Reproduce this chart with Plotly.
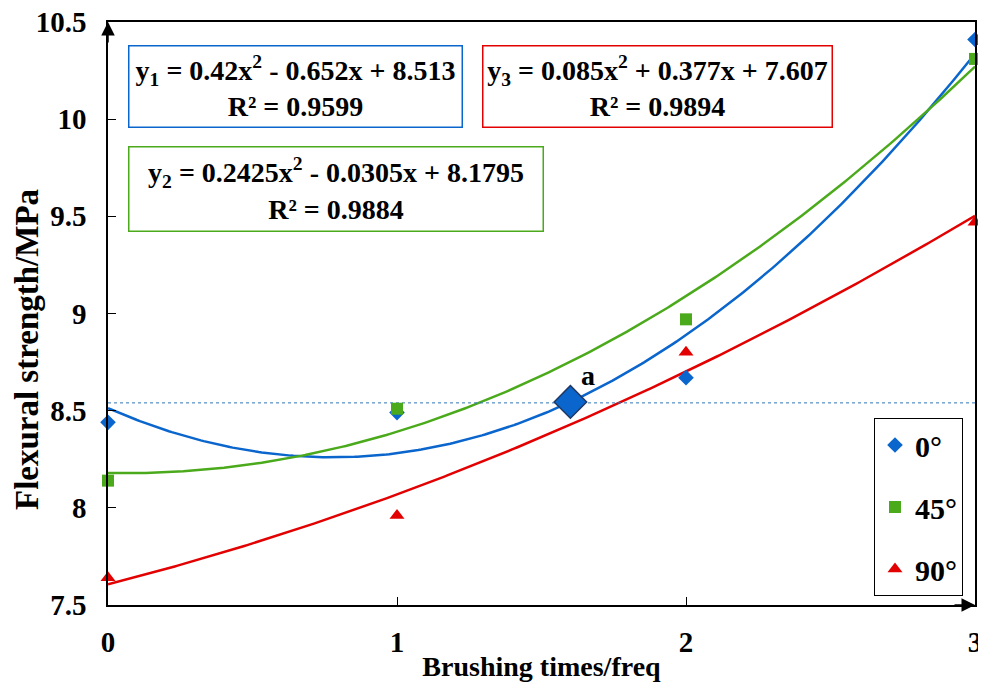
import numpy as np
import plotly.graph_objects as go

# ---- data ----
brushing = [0, 1, 2, 3]
s0 = [8.44, 8.49, 8.67, 10.41]
s45 = [8.14, 8.51, 8.97, 10.31]
s90 = [7.64, 7.96, 8.80, 9.47]
series_names = ["0°", "45°", "90°"]
# quadratic trend coefficients (a, b, c) from the fitted equations
coef0 = [0.42, -0.652, 8.513]
coef45 = [0.2425, -0.0305, 8.1795]
coef90 = [0.085, 0.377, 7.607]
point_a_x = [1.6]
point_a_y = [8.545]
ref_level = 8.54
x_ticks = [0, 1, 2, 3]
y_ticks = [7.5, 8, 8.5, 9, 9.5, 10, 10.5]
y_ticktext = ["7.5", "8", "8.5", "9", "9.5", "10", "10.5"]

BLUE = "#0A66CC"
GREEN = "#4BAA1B"
RED = "#E30000"
FONT = "Liberation Serif"

fig = go.Figure()

xs = np.linspace(0, 3, 300)
for coef, col in [(coef0, BLUE), (coef45, GREEN), (coef90, RED)]:
    ys = coef[0] * xs ** 2 + coef[1] * xs + coef[2]
    fig.add_trace(go.Scatter(x=xs, y=ys, mode="lines", line=dict(color=col, width=2.5),
                             showlegend=False, hoverinfo="skip", cliponaxis=False))

# reference dotted line
fig.add_trace(go.Scatter(x=[x_ticks[0], x_ticks[-1]], y=[ref_level, ref_level], mode="lines",
                         line=dict(color="#2E75B6", width=1, dash="dot"), showlegend=False))

for name, ys, sym, col, sz, grp in [
    (series_names[0], s0, "diamond", BLUE, 12, "g0"),
    (series_names[1], s45, "square", GREEN, 12, "g1"),
    (series_names[2], s90, "triangle-up", RED, 13, "g2"),
]:
    fig.add_trace(go.Scatter(x=brushing, y=ys, mode="markers", name=name, legendgroup=grp,
                             marker=dict(symbol=sym, color=col, size=sz, line=dict(width=0)),
                             cliponaxis=False))

# point a
fig.add_trace(go.Scatter(x=point_a_x, y=point_a_y, mode="markers",
                         marker=dict(symbol="diamond", color=BLUE, size=25, line=dict(color="#1F3864", width=1.5)),
                         showlegend=False))
fig.add_annotation(x=point_a_x[0], y=point_a_y[0], xref="x", yref="y", text="<b>a</b>", showarrow=False,
                   xshift=18, yshift=26, font=dict(family=FONT, size=28, color="black"))

eq_font = dict(family=FONT, size=28, color="black")
boxes = [
    ("<b>y<sub>1</sub> = 0.42x<sup>2</sup> - 0.652x + 8.513<br>R² = 0.9599</b>", 0.2157, 0.890, BLUE, 326, 74),
    ("<b>y<sub>3</sub> = 0.085x<sup>2</sup> + 0.377x + 7.607<br>R² = 0.9894</b>", 0.634, 0.890, RED, 342, 74),
    ("<b>y<sub>2</sub> = 0.2425x<sup>2</sup> - 0.0305x + 8.1795<br>R² = 0.9884</b>", 0.2624, 0.7127, GREEN, 407, 77),
]
for txt, x, y, col, w, h in boxes:
    fig.add_annotation(text=txt, xref="paper", yref="paper", x=x, y=y, xanchor="center", yanchor="middle",
                       showarrow=False, font=eq_font, align="center", bordercolor=col, borderwidth=1.5,
                       borderpad=3, width=w, height=h, bgcolor="white")

# y-axis title (placed as in the reference, slightly below centre)
fig.add_annotation(text="<b>Flexural strength/MPa</b>", xref="paper", yref="paper", x=-0.0934, y=0.4374,
                   xanchor="center", yanchor="middle", textangle=-90, showarrow=False,
                   font=dict(family=FONT, size=33, color="black"))

# axis arrows
fig.add_annotation(x=0, y=10.5, xref="x", yref="y", ax=0, ay=22, showarrow=True, arrowhead=2,
                   arrowsize=1.8, arrowwidth=1.5, arrowcolor="black", text="")
fig.add_annotation(x=3, y=7.5, xref="x", yref="y", ax=-22, ay=0, showarrow=True, arrowhead=2,
                   arrowsize=1.8, arrowwidth=1.5, arrowcolor="black", text="")

# page body has an 8px default margin, so the figure is sized/offset to compensate
fig.update_layout(
    width=978, height=681,
    margin=dict(l=100, r=11, t=14, b=84),
    plot_bgcolor="white", paper_bgcolor="white",
    font=dict(family=FONT, color="black"),
    legend=dict(x=0.8835, y=0.3208, xanchor="left", yanchor="top", bordercolor="black", borderwidth=1,
                font=dict(family=FONT, size=30, color="black", weight="bold"), tracegroupgap=20,
                itemwidth=30, bgcolor="white"),
)
fig.update_xaxes(range=[0, 3], tickvals=x_ticks, ticktext=[str(v) for v in x_ticks],
                 showgrid=False, zeroline=False, showline=True, linecolor="black", linewidth=1.5,
                 mirror=True, ticks="inside", ticklen=8, tickcolor="black", automargin=False,
                 ticklabeloverflow="allow",
                 tickfont=dict(family=FONT, size=29, weight="bold"), ticklabelstandoff=10,
                 title=dict(text="<b>Brushing times/freq</b>", font=dict(family=FONT, size=28), standoff=0))
fig.update_yaxes(range=[7.5, 10.5], tickvals=y_ticks, ticktext=y_ticktext,
                 showgrid=False, zeroline=False, showline=True, linecolor="black", linewidth=1.5,
                 mirror=True, ticks="inside", ticklen=8, tickcolor="black", automargin=False,
                 ticklabeloverflow="allow",
                 tickfont=dict(family=FONT, size=29, weight="bold"), ticklabelstandoff=14)

fig.write_html("out.html")
